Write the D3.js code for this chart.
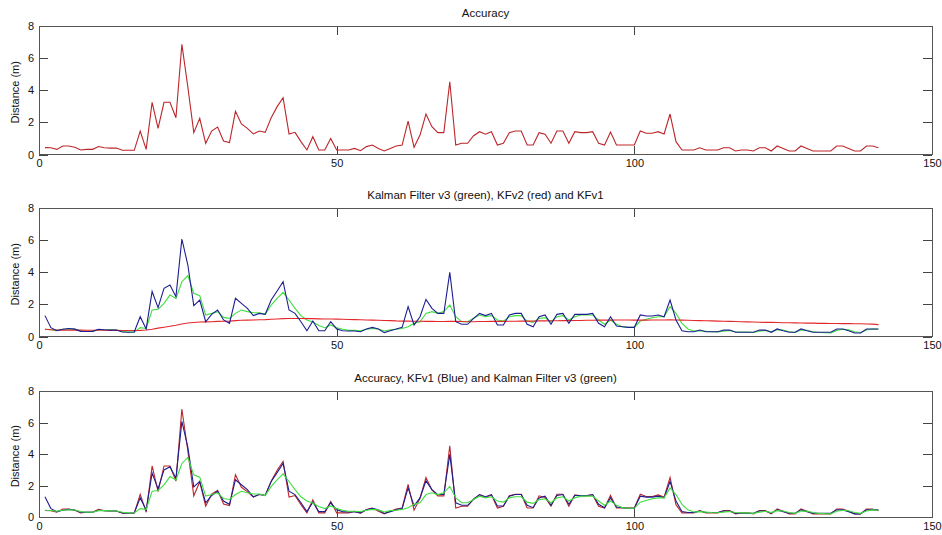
<!DOCTYPE html>
<html><head><meta charset="utf-8">
<script src="https://cdn.jsdelivr.net/npm/d3@7"></script>
<style>
body{margin:0;background:#fff}
text{font-family:Arial,"Liberation Sans",sans-serif;fill:#111}
</style>
</head><body>
<svg id="c" width="942" height="535"></svg>
<script>
// ---------------- DATA ----------------
const titles = ["Accuracy", "Kalman Filter v3 (green), KFv2 (red) and KFv1", "Accuracy, KFv1 (Blue) and Kalman Filter v3 (green)"];
const yLabel = "Distance (m)";
const xTicks = [0, 50, 100, 150];
const yTicks = [0, 2, 4, 6, 8];

const accuracy = [0.43,0.42,0.32,0.53,0.53,0.45,0.28,0.32,0.32,0.5,
0.42,0.4,0.4,0.26,0.26,0.26,1.46,0.32,3.25,1.63,
3.25,3.25,2.29,6.86,4.2,1.36,2.25,0.7,1.46,1.71,
0.84,0.74,2.69,1.9,1.63,1.28,1.46,1.38,2.29,2.98,
3.54,1.28,1.38,0.8,0.28,1.11,0.28,0.28,1.0,0.28,
0.28,0.28,0.38,0.24,0.49,0.59,0.38,0.22,0.38,0.53,
0.59,2.08,0.45,1.21,2.52,1.73,1.36,1.36,4.53,0.59,
0.7,0.7,1.17,1.42,1.26,1.42,0.59,0.7,1.36,1.46,
1.46,0.59,0.59,1.36,1.26,0.7,1.46,1.46,0.7,1.42,
1.36,1.36,1.42,0.7,0.59,1.4,0.59,0.59,0.59,0.59,
1.46,1.32,1.32,1.42,1.28,2.52,0.8,0.28,0.28,0.28,
0.42,0.28,0.28,0.28,0.42,0.42,0.22,0.28,0.28,0.22,
0.42,0.42,0.22,0.53,0.38,0.22,0.22,0.53,0.38,0.22,
0.22,0.22,0.22,0.53,0.53,0.38,0.22,0.22,0.53,0.53,0.42];

const kfv1 = [1.3,0.55,0.36,0.45,0.5,0.46,0.32,0.31,0.32,0.45,
0.42,0.4,0.4,0.28,0.26,0.28,1.23,0.47,2.8,1.8,
3.0,3.2,2.48,6.07,4.45,1.92,2.27,0.92,1.38,1.65,
1.03,0.82,2.38,2.06,1.75,1.3,1.44,1.38,2.27,2.83,
3.41,1.65,1.44,0.92,0.36,0.96,0.36,0.36,0.92,0.47,
0.36,0.34,0.34,0.3,0.47,0.57,0.47,0.24,0.36,0.47,
0.57,1.86,0.72,1.23,2.31,1.75,1.44,1.44,3.99,0.92,
0.76,0.76,1.13,1.44,1.3,1.44,0.72,0.72,1.34,1.44,
1.44,0.76,0.61,1.23,1.34,0.76,1.38,1.44,0.82,1.38,
1.38,1.38,1.44,0.82,0.61,1.23,0.65,0.61,0.57,0.57,
1.34,1.28,1.28,1.34,1.23,2.27,1.03,0.36,0.3,0.3,
0.4,0.3,0.3,0.3,0.4,0.4,0.26,0.26,0.26,0.26,
0.4,0.4,0.26,0.47,0.36,0.26,0.26,0.47,0.36,0.26,
0.26,0.26,0.26,0.47,0.47,0.36,0.22,0.22,0.47,0.47,0.47];

const kfv2 = [0.45,0.42,0.4,0.4,0.4,0.4,0.4,0.39,0.39,0.39,
0.39,0.38,0.38,0.37,0.37,0.37,0.38,0.4,0.45,0.52,
0.58,0.64,0.7,0.78,0.84,0.87,0.9,0.91,0.92,0.94,
0.95,0.96,0.99,1.01,1.02,1.03,1.04,1.05,1.07,1.09,
1.11,1.12,1.12,1.12,1.11,1.11,1.1,1.09,1.09,1.08,
1.07,1.06,1.05,1.04,1.03,1.02,1.01,1.0,0.99,0.97,
0.96,0.96,0.95,0.95,0.94,0.94,0.93,0.93,0.94,0.94,
0.93,0.92,0.92,0.93,0.93,0.94,0.94,0.94,0.95,0.95,
0.96,0.96,0.96,0.97,0.97,0.98,0.98,0.99,0.99,1.0,
1.0,1.01,1.01,1.02,1.02,1.02,1.03,1.03,1.03,1.02,
1.02,1.02,1.03,1.03,1.03,1.04,1.03,1.02,1.01,1.0,
0.99,0.98,0.97,0.96,0.95,0.94,0.93,0.92,0.91,0.9,
0.89,0.88,0.88,0.87,0.86,0.86,0.85,0.84,0.83,0.83,
0.82,0.82,0.81,0.81,0.8,0.8,0.79,0.79,0.78,0.77,0.74];

const kfv3 = [0.45,0.43,0.38,0.45,0.48,0.46,0.36,0.33,0.32,0.42,
0.42,0.41,0.4,0.32,0.28,0.27,0.55,0.5,1.65,1.7,
2.06,2.58,2.37,3.41,3.79,2.69,2.54,1.34,1.44,1.55,
1.19,1.13,1.44,1.65,1.55,1.48,1.48,1.38,1.96,2.37,
2.75,2.27,1.75,1.3,1.03,0.9,0.68,0.55,0.72,0.55,
0.45,0.38,0.38,0.36,0.45,0.5,0.47,0.34,0.42,0.45,
0.5,0.61,0.82,0.92,1.44,1.55,1.44,1.55,1.96,1.23,
0.92,0.92,1.13,1.34,1.23,1.3,1.03,0.96,1.23,1.3,
1.3,0.96,0.88,1.13,1.17,0.92,1.23,1.3,1.03,1.23,
1.34,1.34,1.34,1.03,0.76,1.03,0.76,0.61,0.57,0.57,
0.96,1.07,1.17,1.23,1.23,1.86,1.44,0.82,0.47,0.34,
0.36,0.33,0.3,0.29,0.33,0.37,0.3,0.28,0.28,0.25,
0.33,0.38,0.3,0.42,0.4,0.3,0.25,0.4,0.39,0.3,
0.25,0.23,0.22,0.38,0.45,0.42,0.3,0.25,0.4,0.47,0.45];

const colors = {acc:"#bb262b", kf1:"#1e1e90", kf2:"#e3282b", kf3:"#3ee03e"};

// ---------------- CHART ----------------
const svg = d3.select("#c");
const left = 39, right = 932;
const panels = [
  {top:26, bottom:154.5, series:[["acc",accuracy]]},
  {top:208, bottom:336.5, series:[["kf3",kfv3],["kf2",kfv2],["kf1",kfv1]]},
  {top:391, bottom:517.3, series:[["acc",accuracy],["kf1",kfv1],["kf3",kfv3]]}
];
const x = d3.scaleLinear().domain([0,150]).range([left,right]);
const axisCol = "#444";

panels.forEach((p,pi)=>{
  const y = d3.scaleLinear().domain([0,8]).range([p.bottom,p.top]);
  const g = svg.append("g");

  const styleAxis = sel => {
    sel.select(".domain").remove();
    sel.selectAll(".tick line").attr("stroke",axisCol).attr("shape-rendering","crispEdges");
    sel.selectAll(".tick text").attr("font-size","11px").attr("fill","#111")
       .attr("font-family","Arial, 'Liberation Sans', sans-serif");
  };

  g.append("g").attr("transform",`translate(0,${p.bottom})`)
    .call(d3.axisBottom(x).tickValues(xTicks).tickSize(-9).tickPadding(5).tickFormat(d3.format("d")))
    .call(styleAxis);
  g.append("g").attr("transform",`translate(0,${p.top})`)
    .call(d3.axisTop(x).tickValues(xTicks).tickSize(-9).tickFormat(""))
    .call(styleAxis);
  g.append("g").attr("transform",`translate(${left},0)`)
    .call(d3.axisLeft(y).tickValues(yTicks).tickSize(-9).tickPadding(5).tickFormat(d3.format("d")))
    .call(styleAxis);
  g.append("g").attr("transform",`translate(${right},0)`)
    .call(d3.axisRight(y).tickValues(yTicks).tickSize(-9).tickFormat(""))
    .call(styleAxis);

  g.append("rect").attr("x",left).attr("y",p.top)
    .attr("width",right-left).attr("height",p.bottom-p.top)
    .attr("fill","none").attr("stroke","#555").attr("stroke-width",1)
    .attr("shape-rendering","crispEdges");

  const line = d3.line().x((d,i)=>x(i+1)).y(d=>y(d));
  p.series.forEach(([k,arr])=>{
    g.append("path").datum(arr).attr("d",line)
      .attr("fill","none").attr("stroke",colors[k]).attr("stroke-width",1.1)
      .attr("stroke-linejoin","miter");
  });

  g.append("text").attr("x",(left+right)/2).attr("y",p.top-9)
    .attr("text-anchor","middle").attr("font-size","11.5px").text(titles[pi]);

  g.append("text")
    .attr("transform",`translate(15,${(p.top+p.bottom)/2 + 2}) rotate(-90)`)
    .attr("text-anchor","middle").attr("dy","0.35em").attr("font-size","11px").text(yLabel);
});
</script>
</body></html>
